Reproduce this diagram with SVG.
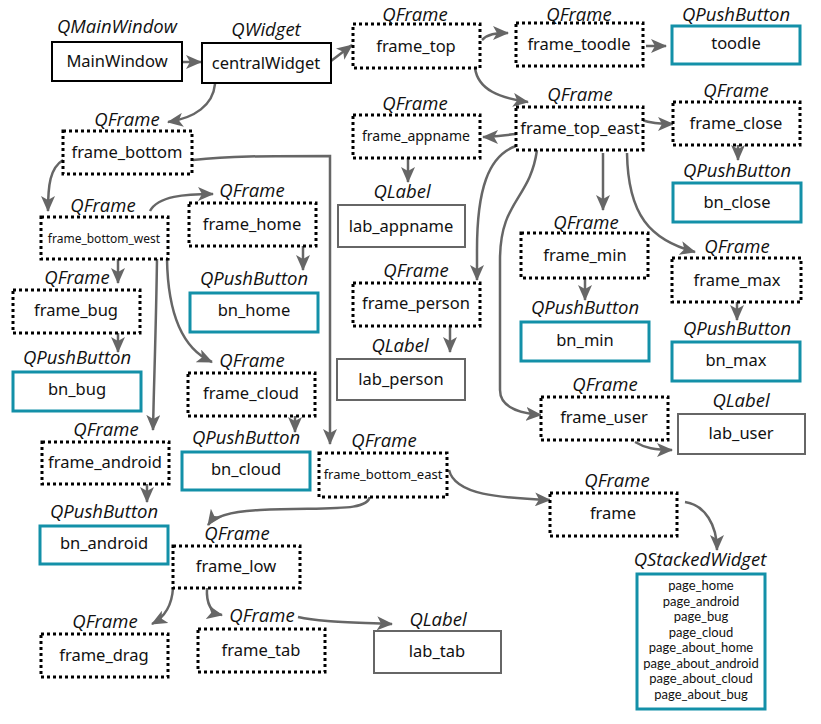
<svg xmlns="http://www.w3.org/2000/svg" width="821" height="724" viewBox="0 0 821 724">
<style>
.dot{fill:#fff;stroke:#000;stroke-width:3;stroke-dasharray:3 3}
.solid{fill:#fff;stroke:#000;stroke-width:2}
.btn{fill:#fff;stroke:#1390a8;stroke-width:3}
.lab{fill:#fff;stroke:#666;stroke-width:2}
text{font-family:"Noto Sans","Open Sans",sans-serif;font-size:16.5px;text-anchor:middle;fill:#111}
text.k{font-family:"Open Sans","Noto Sans",sans-serif;font-style:italic;font-size:18.5px}
text.s{font-size:13px}
text.p{font-family:Lato,"Noto Sans",sans-serif;font-size:13px}
#edges path{fill:none;stroke:#666;stroke-width:2.5;marker-end:url(#arr)}
</style>
<defs>
<marker id="arr" viewBox="0 0 16 14" refX="15" refY="7" markerWidth="16" markerHeight="14" markerUnits="userSpaceOnUse" orient="auto">
<path d="M0,0 L16,7 L0,14 L4,7 z" fill="#666"/>
</marker>
</defs>
<rect width="821" height="724" fill="#fff"/>
<g id="edges">
<path d="M183,62 L201,62"/>
<path d="M331,61 L352,45"/>
<path d="M215,84 C213,105 195,118 168,122"/>
<path d="M482,40 C488,34 495,33 508,33"/>
<path d="M646,46 L666,46"/>
<path d="M475,68 C478,90 500,98 528,102"/>
<path d="M642,120 C650,123 660,124 673,124"/>
<path d="M516,134 C505,135 495,137 483,137"/>
<path d="M408,157 L408,182"/>
<path d="M738,145 L738,160"/>
<path d="M603,153 L603,210"/>
<path d="M627,153 C628,215 650,240 695,252"/>
<path d="M516,146 C488,156 477,190 477,250 L477,280"/>
<path d="M537,150 C530,200 500,200 500,260 L500,390 C500,405 515,413 541,415"/>
<path d="M585,278 L585,300"/>
<path d="M737,302 L737,320"/>
<path d="M450,326 L450,352"/>
<path d="M635,442 C645,448 655,450 672,450"/>
<path d="M449,470 C455,495 500,498 550,500"/>
<path d="M685,502 C705,505 717,525 717,550"/>
<path d="M193,160 C230,156 260,156 330,156 L330,444"/>
<path d="M63,160 C50,168 48,185 48,211"/>
<path d="M150,211 C158,196 185,194 213,194"/>
<path d="M303,245 L303,270"/>
<path d="M118,259 L118,283"/>
<path d="M118,333 L118,352"/>
<path d="M157,259 C156,330 154,380 153,430"/>
<path d="M167,259 C168,320 185,350 212,362"/>
<path d="M295,416 L295,432"/>
<path d="M147,484 L147,502"/>
<path d="M370,496 C368,512 330,507 260,510 C235,511 215,515 208,525"/>
<path d="M173,588 C172,605 165,617 152,624"/>
<path d="M207,588 C206,605 212,613 222,615"/>
<path d="M298,617 C320,622 350,622 392,624"/>
</g>
<g id="n_mainwindow"><rect class="solid" x="52" y="42" width="130" height="39"/><text class="k" x="117" y="33">QMainWindow</text><text x="117" y="67">MainWindow</text></g>
<g id="n_centralwidget"><rect class="solid" x="202" y="43" width="129" height="40"/><text class="k" x="266" y="36">QWidget</text><text x="266" y="69">centralWidget</text></g>
<g id="n_frame_top"><rect class="dot" x="353" y="24" width="127" height="44"/><text class="k" x="415" y="20.5">QFrame</text><text x="416" y="52">frame_top</text></g>
<g id="n_frame_toodle"><rect class="dot" x="516" y="23" width="127" height="43"/><text class="k" x="579" y="20.5">QFrame</text><text x="579" y="50">frame_toodle</text></g>
<g id="n_toodle"><rect class="btn" x="672" y="26" width="128" height="38"/><text class="k" x="736" y="20.5">QPushButton</text><text x="736" y="49">toodle</text></g>
<g id="n_frame_top_east"><rect class="dot" x="516" y="107" width="127" height="43"/><text class="k" x="580" y="101">QFrame</text><text x="580" y="134">frame_top_east</text></g>
<g id="n_frame_appname"><rect class="dot" x="353" y="115" width="127" height="43"/><text class="k" x="415" y="110">QFrame</text><text class="s" x="416" y="141" style="font-size:14px">frame_appname</text></g>
<g id="n_frame_close"><rect class="dot" x="673" y="102" width="127" height="43"/><text class="k" x="736" y="97">QFrame</text><text x="736" y="129">frame_close</text></g>
<g id="n_bn_close"><rect class="btn" x="673" y="183" width="128" height="39"/><text class="k" x="737" y="177">QPushButton</text><text x="737" y="208">bn_close</text></g>
<g id="n_lab_appname"><rect class="lab" x="338" y="205" width="127" height="42"/><text class="k" x="402" y="198">QLabel</text><text x="401" y="232">lab_appname</text></g>
<g id="n_frame_min"><rect class="dot" x="521" y="233" width="127" height="45"/><text class="k" x="586" y="229">QFrame</text><text x="585" y="261">frame_min</text></g>
<g id="n_frame_max"><rect class="dot" x="672" y="258" width="129" height="44"/><text class="k" x="737" y="253">QFrame</text><text x="737" y="286">frame_max</text></g>
<g id="n_bn_min"><rect class="btn" x="521" y="322" width="128" height="39"/><text class="k" x="585" y="314">QPushButton</text><text x="585" y="346">bn_min</text></g>
<g id="n_bn_max"><rect class="btn" x="672" y="342" width="128" height="39"/><text class="k" x="737" y="335">QPushButton</text><text x="736" y="366">bn_max</text></g>
<g id="n_frame_person"><rect class="dot" x="353" y="283" width="127" height="43"/><text class="k" x="416" y="277">QFrame</text><text x="416" y="309">frame_person</text></g>
<g id="n_lab_person"><rect class="lab" x="337" y="359" width="128" height="41"/><text class="k" x="400" y="352">QLabel</text><text x="401" y="385">lab_person</text></g>
<g id="n_frame_user"><rect class="dot" x="541" y="397" width="127" height="43"/><text class="k" x="605" y="391">QFrame</text><text x="604" y="423">frame_user</text></g>
<g id="n_lab_user"><rect class="lab" x="678" y="414" width="127" height="40"/><text class="k" x="741" y="407">QLabel</text><text x="741" y="439">lab_user</text></g>
<g id="n_frame_bottom_east"><rect class="dot" x="319" y="453" width="128" height="44"/><text class="k" x="384" y="447">QFrame</text><text class="s" x="383" y="479">frame_bottom_east</text></g>
<g id="n_frame"><rect class="dot" x="550" y="493" width="127" height="43"/><text class="k" x="617" y="487">QFrame</text><text x="613" y="519">frame</text></g>
<g id="n_stacked"><rect class="btn" x="637" y="574" width="128" height="135"/><text class="k" x="700" y="566">QStackedWidget</text>
<text class="p" x="701" y="590">page_home</text>
<text class="p" x="701" y="606">page_android</text>
<text class="p" x="701" y="621">page_bug</text>
<text class="p" x="701" y="637">page_cloud</text>
<text class="p" x="701" y="652">page_about_home</text>
<text class="p" x="701" y="668">page_about_android</text>
<text class="p" x="701" y="683">page_about_cloud</text>
<text class="p" x="701" y="699">page_about_bug</text></g>
<g id="n_frame_bottom"><rect class="dot" x="63" y="131" width="129" height="43"/><text class="k" x="127" y="126">QFrame</text><text x="127" y="158">frame_bottom</text></g>
<g id="n_frame_bottom_west"><rect class="dot" x="41" y="217" width="127" height="42"/><text class="k" x="103" y="212">QFrame</text><text class="s" x="104" y="243" style="font-size:12px">frame_bottom_west</text></g>
<g id="n_frame_home"><rect class="dot" x="189" y="203" width="127" height="43"/><text class="k" x="252" y="197">QFrame</text><text x="252" y="230">frame_home</text></g>
<g id="n_frame_bug"><rect class="dot" x="13" y="290" width="127" height="43"/><text class="k" x="77" y="284">QFrame</text><text x="76" y="316">frame_bug</text></g>
<g id="n_bn_home"><rect class="btn" x="190" y="293" width="128" height="39"/><text class="k" x="254" y="285">QPushButton</text><text x="254" y="316">bn_home</text></g>
<g id="n_bn_bug"><rect class="btn" x="13" y="372" width="128" height="39"/><text class="k" x="77" y="364">QPushButton</text><text x="77" y="395">bn_bug</text></g>
<g id="n_frame_cloud"><rect class="dot" x="188" y="373" width="127" height="43"/><text class="k" x="252" y="367">QFrame</text><text x="251" y="399">frame_cloud</text></g>
<g id="n_frame_android"><rect class="dot" x="42" y="442" width="127" height="42"/><text class="k" x="106" y="436">QFrame</text><text x="105" y="468">frame_android</text></g>
<g id="n_bn_cloud"><rect class="btn" x="182" y="452" width="128" height="38"/><text class="k" x="246" y="444">QPushButton</text><text x="246" y="475">bn_cloud</text></g>
<g id="n_bn_android"><rect class="btn" x="40" y="526" width="128" height="38"/><text class="k" x="104" y="518">QPushButton</text><text x="104" y="549">bn_android</text></g>
<g id="n_frame_low"><rect class="dot" x="173" y="546" width="127" height="42"/><text class="k" x="237" y="540">QFrame</text><text x="236" y="572">frame_low</text></g>
<g id="n_frame_drag"><rect class="dot" x="41" y="634" width="127" height="43"/><text class="k" x="105" y="628">QFrame</text><text x="104" y="661">frame_drag</text></g>
<g id="n_frame_tab"><rect class="dot" x="198" y="629" width="127" height="43"/><text class="k" x="262" y="622">QFrame</text><text x="261" y="656">frame_tab</text></g>
<g id="n_lab_tab"><rect class="lab" x="374" y="631" width="127" height="42"/><text class="k" x="438" y="626">QLabel</text><text x="437" y="657">lab_tab</text></g>
</svg>
